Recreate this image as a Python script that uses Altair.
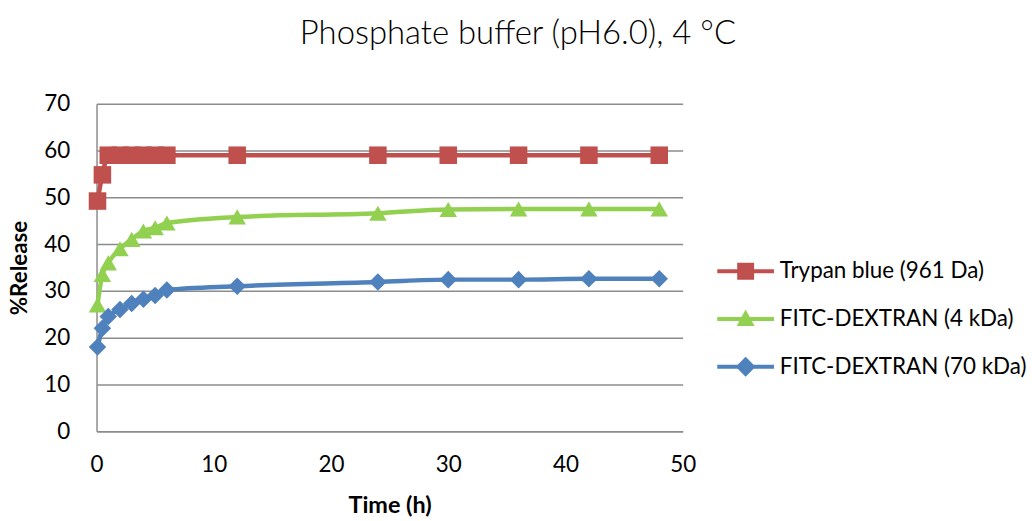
import altair as alt
import pandas as pd

times = [0.083, 0.5, 1, 2, 3, 4, 5, 6, 12, 24, 30, 36, 42, 48]
trypan = [49.2, 54.8, 59, 59, 59, 59, 59, 59, 59, 59, 59, 59, 59, 59]
fitc4 = [27.0, 33.5, 36.0, 39.0, 41.0, 42.8, 43.5, 44.5, 45.8, 46.6, 47.4, 47.5, 47.5, 47.5]
fitc70 = [18.0, 22.0, 24.5, 26.0, 27.3, 28.2, 29.0, 30.2, 31.0, 31.9, 32.4, 32.4, 32.6, 32.6]
series = ["Trypan blue (961 Da)", "FITC-DEXTRAN (4 kDa)", "FITC-DEXTRAN (70 kDa)"]
colors = ["#C0504D", "#92D050", "#4F81BD"]
shapes = ["square", "triangle-up", "diamond"]

# legend symbols: line + marker
leg_shapes = [
    "M-2.85,-0.2L2.85,-0.2L2.85,0.2L-2.85,0.2Z M-0.85,-0.85L0.85,-0.85L0.85,0.85L-0.85,0.85Z",
    "M-2.85,-0.2L2.85,-0.2L2.85,0.2L-2.85,0.2Z M0,-0.95L0.9,0.7L-0.9,0.7Z",
    "M-2.85,-0.2L2.85,-0.2L2.85,0.2L-2.85,0.2Z M0,-1.0L1.0,0L0,1.0L-1.0,0Z",
]

rows = []
for name, vals in zip(series, [trypan, fitc4, fitc70]):
    for t, v in zip(times, vals):
        rows.append({"Time": t, "Release": v, "Series": name})
df = pd.DataFrame(rows)

FONT = "Lato"
FS = 22.5
x = alt.X("Time:Q", title="Time (h)",
          scale=alt.Scale(domain=[0, 50], nice=False),
          axis=alt.Axis(values=[0, 10, 20, 30, 40, 50], grid=False, ticks=False,
                        labelFlush=False,
                        labelFontSize=FS, labelPadding=23, titleFontSize=23.5,
                        titleFontWeight="bold", titlePadding=17,
                        domainColor="#8c8c8c", domainWidth=1.5,
                        labelColor="#000", titleColor="#000", labelFont=FONT, titleFont=FONT))
y = alt.Y("Release:Q", title="%Release",
          scale=alt.Scale(domain=[0, 70], nice=False),
          axis=alt.Axis(values=[0, 10, 20, 30, 40, 50, 60, 70], ticks=False,
                        labelFlush=False,
                        labelFontSize=FS, labelPadding=27, titleFontSize=FS,
                        titleFontWeight="bold", titlePadding=12,
                        gridColor="#8c8c8c", gridWidth=1.5,
                        domainColor="#8c8c8c", domainWidth=1.5,
                        labelColor="#000", titleColor="#000", labelFont=FONT, titleFont=FONT))

cscale = alt.Scale(domain=series, range=colors)

lines = alt.Chart(df).mark_line(strokeWidth=4.5, interpolate="monotone").encode(
    x=x, y=y, color=alt.Color("Series:N", scale=cscale, legend=None),
    detail="Series:N")

points = alt.Chart(df).mark_point(filled=True, opacity=1, size=310).encode(
    x=x, y=y,
    color=alt.Color("Series:N", scale=cscale, legend=None),
    shape=alt.Shape("Series:N", scale=alt.Scale(domain=series, range=shapes), legend=None))

leg = dict(title=None, orient="none", legendX=641, legendY=157,
           symbolSize=400, symbolOpacity=1, symbolStrokeWidth=0,
           labelFontSize=FS, labelFont=FONT, labelColor="#000",
           labelOffset=23, rowPadding=25, padding=0, labelLimit=400)

legend_layer = alt.Chart(df).mark_point(filled=True, opacity=0, size=1).encode(
    x=x, y=y,
    color=alt.Color("Series:N", scale=cscale, legend=alt.Legend(**leg)),
    shape=alt.Shape("Series:N", scale=alt.Scale(domain=series, range=leg_shapes),
                    legend=alt.Legend(**leg)))

chart = alt.layer(lines, points, legend_layer).resolve_scale(
    shape="independent", color="independent"
).properties(
    width=589, height=329,
    padding={"top": 17, "left": 8, "right": 5, "bottom": 5},
    title=alt.Title("Phosphate buffer (pH6.0), 4 °C", fontSize=33, font=FONT,
                    fontWeight=300, anchor="middle", frame="bounds",
                    offset=42, color="#000"),
    background="white",
).configure_view(stroke=None)

chart.save("out.html", embed_options={"renderer": "svg", "actions": False})
